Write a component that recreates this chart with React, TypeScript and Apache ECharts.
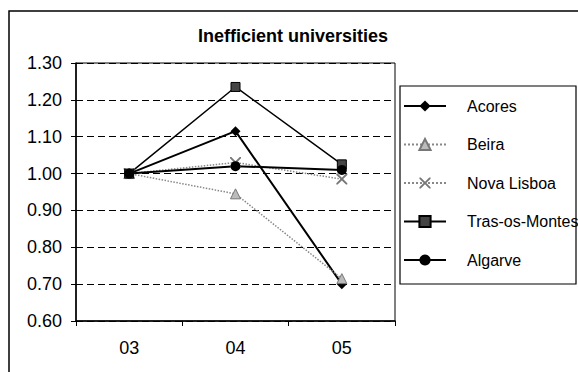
import React, { useEffect, useRef } from "react";
import * as echarts from "echarts";

const categories = ["03", "04", "05"];
const acores = [1.0, 1.115, 0.7];
const beira = [1.0, 0.945, 0.715];
const novaLisboa = [1.0, 1.03, 0.985];
const trasOsMontes = [1.0, 1.235, 1.025];
const algarve = [1.0, 1.02, 1.01];
const yMin = 0.6;
const yMax = 1.3;
const yStep = 0.1;

const FONT = 'Arial, "Liberation Sans", sans-serif';
const X_PATH =
  "path://M0,0 L1.2,0 L5,3.8 L8.8,0 L10,0 L10,1.2 L6.2,5 L10,8.8 L10,10 L8.8,10 L5,6.2 L1.2,10 L0,10 L0,8.8 L3.8,5 L0,1.2 Z";

export default function App() {
  const ref = useRef<HTMLDivElement>(null);
  useEffect(() => {
    if (!ref.current) return;
    const chart = echarts.init(ref.current, null, { renderer: "svg" });
    chart.setOption({
      animation: false,
      backgroundColor: "#ffffff",
      textStyle: { fontFamily: FONT },
      title: {
        text: "Inefficient universities",
        left: 288,
        textAlign: "center",
        top: 22,
        textStyle: { fontFamily: FONT, fontSize: 18, fontWeight: "bold", color: "#000" },
      },
      graphic: [
        {
          type: "rect",
          shape: { x: 9, y: 11, width: 700, height: 500 },
          style: { fill: "none", stroke: "#000", lineWidth: 1.5 },
          silent: true,
        },
        {
          type: "rect",
          shape: { x: 400, y: 86, width: 176, height: 198 },
          style: { fill: "none", stroke: "#000", lineWidth: 1.2 },
          silent: true,
        },
      ],
      grid: {
        left: 76,
        top: 63,
        width: 319,
        height: 258,
        show: true,
        borderColor: "#000",
        borderWidth: 1,
        backgroundColor: "transparent",
      },
      legend: {
        orient: "vertical",
        left: 403,
        top: 98,
        itemWidth: 42,
        itemHeight: 14,
        itemGap: 22.5,
        padding: 0,
        textStyle: { fontFamily: FONT, fontSize: 16, color: "#000", padding: [0, 0, 0, 16] },
        data: ["Acores", "Beira", "Nova Lisboa", "Tras-os-Montes", "Algarve"],
      },
      xAxis: {
        type: "category",
        data: categories,
        boundaryGap: true,
        axisLine: { lineStyle: { color: "#000", width: 1.5 } },
        axisTick: { show: true, length: 5, lineStyle: { color: "#000" } },
        axisLabel: { fontFamily: FONT, fontSize: 18, color: "#000", margin: 18 },
        splitLine: { show: false },
      },
      yAxis: {
        type: "value",
        min: yMin,
        max: yMax,
        interval: yStep,
        axisLine: { show: true, lineStyle: { color: "#000", width: 1.5 } },
        axisTick: { show: true, length: 5, lineStyle: { color: "#000" } },
        axisLabel: {
          fontFamily: FONT,
          fontSize: 18,
          color: "#000",
          margin: 14,
          formatter: (v: number) => v.toFixed(2),
        },
        splitLine: {
          show: true,
          lineStyle: { color: "#000", type: [7, 4], width: 1 },
        },
      },
      series: [
        {
          name: "Acores",
          type: "line",
          data: acores,
          symbol: "diamond",
          symbolSize: 10,
          lineStyle: { color: "#000", width: 2 },
          itemStyle: { color: "#000" },
        },
        {
          name: "Beira",
          type: "line",
          data: beira,
          symbol: "triangle",
          symbolSize: 10,
          lineStyle: { color: "#888", width: 1.5, type: "dotted" },
          itemStyle: { color: "#bbb", borderColor: "#777", borderWidth: 1 },
        },
        {
          name: "Nova Lisboa",
          type: "line",
          data: novaLisboa,
          symbol: X_PATH,
          symbolSize: 11,
          lineStyle: { color: "#888", width: 1.5, type: "dotted" },
          itemStyle: { color: "#777" },
        },
        {
          name: "Tras-os-Montes",
          type: "line",
          data: trasOsMontes,
          symbol: "rect",
          symbolSize: 9,
          lineStyle: { color: "#000", width: 1.5 },
          itemStyle: { color: "#444", borderColor: "#000", borderWidth: 1 },
        },
        {
          name: "Algarve",
          type: "line",
          data: algarve,
          symbol: "circle",
          symbolSize: 10,
          lineStyle: { color: "#000", width: 2 },
          itemStyle: { color: "#000" },
        },
      ],
    });
    return () => chart.dispose();
  }, []);
  return (
    <div
      ref={ref}
      style={{ position: "fixed", left: 0, top: 0, width: 578, height: 372 }}
    />
  );
}
